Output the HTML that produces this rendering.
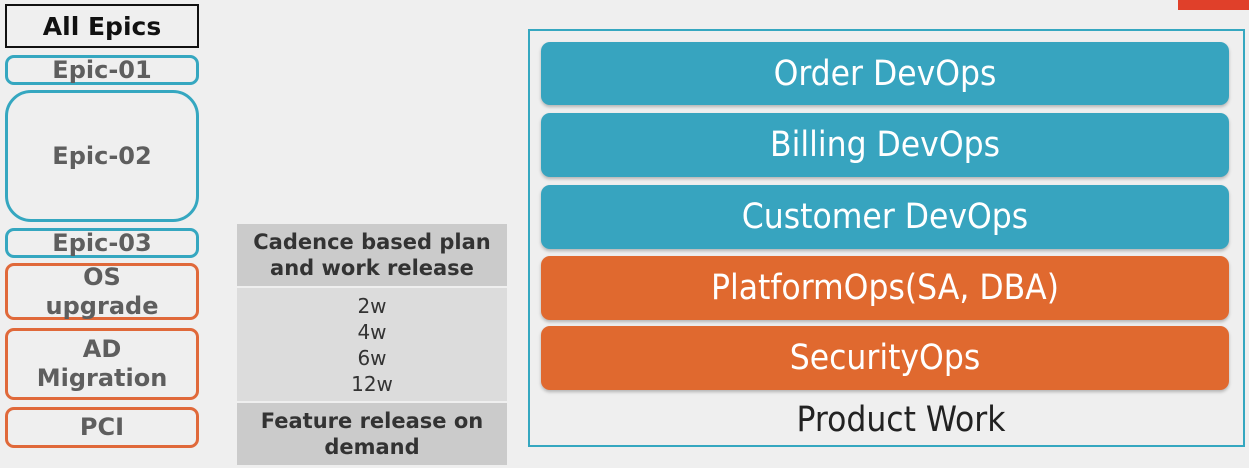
<!DOCTYPE html>
<html><head><style>
body{margin:0;width:1249px;height:468px;background:#efefef;position:relative;overflow:hidden;font-family:"DejaVu Sans","Liberation Sans",sans-serif}
.a{position:absolute;box-sizing:border-box;display:flex;align-items:center;justify-content:center;text-align:center;white-space:nowrap}
.ep{border:3px solid #35a7c0;border-radius:9px;color:#5e5e5e;font-weight:bold;font-size:24px;line-height:29px}
.or{border-color:#e0693a}
.bar{left:541px;width:688px;border-radius:9px;color:#fff;font-size:35px;font-family:"DejaVu Sans Condensed","DejaVu Sans",sans-serif;font-stretch:condensed;box-shadow:0 2px 3px rgba(0,0,0,.25)}
.t{background:#37a4bf}.o{background:#e0692f}
.g{left:237px;width:270px;color:#333;font-size:21px;line-height:26px}
</style></head><body>
<div class="a" style="left:1178px;top:0;width:71px;height:10px;background:#e0402a"></div>
<div class="a" style="left:5px;top:4px;width:194px;height:44px;border:2px solid #111;font-weight:bold;font-size:25px;color:#111">All Epics</div>
<div class="a ep" style="left:5px;top:55px;width:194px;height:30px">Epic-01</div>
<div class="a ep" style="left:5px;top:90px;width:194px;height:132px;border-radius:26px">Epic-02</div>
<div class="a ep" style="left:5px;top:228px;width:194px;height:30px">Epic-03</div>
<div class="a ep or" style="left:5px;top:263px;width:194px;height:57px">OS<br>upgrade</div>
<div class="a ep or" style="left:5px;top:328px;width:194px;height:72px">AD<br>Migration</div>
<div class="a ep or" style="left:5px;top:407px;width:194px;height:41px">PCI</div>
<div class="a g" style="top:224px;height:62px;background:#cbcbcb;font-weight:bold">Cadence based plan<br>and work release</div>
<div class="a g" style="top:288px;height:113px;background:#dcdcdc;font-size:20px">2w<br>4w<br>6w<br>12w</div>
<div class="a g" style="top:403px;height:62px;background:#cbcbcb;font-weight:bold">Feature release on<br>demand</div>
<div class="a" style="left:528px;top:29px;width:717px;height:418px;border:2px solid #35a7c0"></div>
<div class="a bar t" style="top:42px;height:63px">Order DevOps</div>
<div class="a bar t" style="top:113px;height:64px">Billing DevOps</div>
<div class="a bar t" style="top:185px;height:64px">Customer DevOps</div>
<div class="a bar o" style="top:256px;height:64px">PlatformOps(SA, DBA)</div>
<div class="a bar o" style="top:326px;height:64px">SecurityOps</div>
<div class="a" style="left:541px;top:400px;width:720px;height:40px;font-size:35px;color:#222;font-family:'DejaVu Sans Condensed','DejaVu Sans',sans-serif;font-stretch:condensed">Product Work</div>
</body></html>
